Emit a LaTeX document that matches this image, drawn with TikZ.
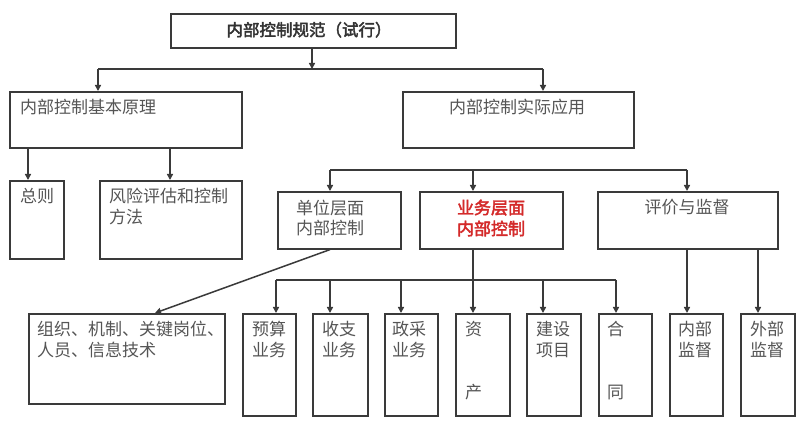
\documentclass[tikz,border=0pt]{standalone}
\usepackage{fontspec}
\setmainfont[AutoFakeBold=2.5]{Noto Sans CJK SC}
\usetikzlibrary{arrows.meta}
\definecolor{lineclr}{HTML}{3A3A3A}
\definecolor{txtclr}{HTML}{555555}
\definecolor{redclr}{HTML}{D42A2A}
\tikzset{
  box/.style={draw=lineclr, line width=1.6pt, inner sep=0pt, anchor=north west},
  txt/.style={text=txtclr, font=\fontsize{17}{20}\selectfont, inner sep=0pt, anchor=base west},
  ctxt/.style={txt, anchor=base},
  redtxt/.style={ctxt, text=redclr, font=\fontsize{17}{20}\selectfont\bfseries},
  conn/.style={draw=lineclr, line width=1.5pt},
  arr/.style={conn, -{Triangle[length=6pt,width=6pt]}},
}
\begin{document}
\begin{tikzpicture}[x=1pt,y=-1pt]
\fill[white] (0,0) rectangle (800,427);
\useasboundingbox (0,0) rectangle (800,427);
% boxes
\node[box, minimum width=285pt, minimum height=34pt] (top) at (170,13) {};
\node[box, minimum width=232pt, minimum height=56pt] (yuanli) at (9,91) {};
\node[box, minimum width=231pt, minimum height=56pt] (yingyong) at (402,91) {};
\node[box, minimum width=54pt, minimum height=78pt] (zongze) at (9,180) {};
\node[box, minimum width=142pt, minimum height=78pt] (fengxian) at (99,180) {};
\node[box, minimum width=123pt, minimum height=57pt] (danwei) at (277,191) {};
\node[box, minimum width=143pt, minimum height=57pt] (yewu) at (419,191) {};
\node[box, minimum width=180pt, minimum height=57pt] (pingjia) at (597,191) {};
\node[box, minimum width=196pt, minimum height=90pt] (zuzhi) at (28,313) {};
\node[box, minimum width=53pt, minimum height=102pt] (yusuan) at (242,313) {};
\node[box, minimum width=55pt, minimum height=102pt] (shouzhi) at (312,313) {};
\node[box, minimum width=53pt, minimum height=102pt] (zhengcai) at (384,313) {};
\node[box, minimum width=54pt, minimum height=102pt] (zichan) at (455,313) {};
\node[box, minimum width=54pt, minimum height=102pt] (jianshe) at (526,313) {};
\node[box, minimum width=53pt, minimum height=102pt] (hetong) at (598,313) {};
\node[box, minimum width=53pt, minimum height=102pt] (neibu) at (669,313) {};
\node[box, minimum width=54pt, minimum height=102pt] (waibu) at (740,313) {};
% texts
\node[ctxt, text=black!80, font=\fontsize{16.5}{20}\selectfont\bfseries] (t-top) at (309,36) {内部控制规范（试行）};
\node[txt] (t-yuanli) at (20,114) {内部控制基本原理};
\node[ctxt] (t-yingyong) at (517,114) {内部控制实际应用};
\node[txt] (t-zongze) at (20,203) {总则};
\node[txt] (t-fx1) at (109,203) {风险评估和控制};
\node[txt] (t-fx2) at (109,224) {方法};
\node[txt] (t-dw1) at (296,215) {单位层面};
\node[txt] (t-dw2) at (296,235) {内部控制};
\node[redtxt] (t-yw1) at (491,214) {业务层面};
\node[redtxt] (t-yw2) at (491,235) {内部控制};
\node[ctxt] (t-pj) at (687,214) {评价与监督};
\node[txt] (t-zz1) at (37,336) {组织、机制、关键岗位、};
\node[txt] (t-zz2) at (37,356) {人员、信息技术};
\node[txt] (t-ys1) at (252,336) {预算};
\node[txt] (t-ys2) at (252,356) {业务};
\node[txt] (t-sz1) at (322,336) {收支};
\node[txt] (t-sz2) at (322,356) {业务};
\node[txt] (t-zc1) at (392,336) {政采};
\node[txt] (t-zc2) at (392,356) {业务};
\node[txt] (t-zi) at (465,336) {资};
\node[txt] (t-chan) at (465,398) {产};
\node[txt] (t-js1) at (536,336) {建设};
\node[txt] (t-js2) at (536,356) {项目};
\node[txt] (t-he) at (607,336) {合};
\node[txt] (t-tong) at (607,398) {同};
\node[txt] (t-nb1) at (678,336) {内部};
\node[txt] (t-nb2) at (678,356) {监督};
\node[txt] (t-wb1) at (750,336) {外部};
\node[txt] (t-wb2) at (750,356) {监督};
% buses
\coordinate (bus1L) at (98,69);
\coordinate (bus1R) at (543,69);
\coordinate (bus2L) at (330,170);
\coordinate (bus2R) at (687,170);
\coordinate (bus3L) at (276,280);
\coordinate (bus3R) at (616,280);
\draw[conn] (bus1L) -- (bus1R);
\draw[conn] (bus2L) -- (bus2R);
\draw[conn] (bus3L) -- (bus3R);
% connectors
\draw[arr] (312,0 |- top.south) -- (312,0 |- bus1L);
\draw[arr] (bus1L) -- (bus1L |- yuanli.north);
\draw[arr] (bus1R) -- (bus1R |- yingyong.north);
\draw[arr] (28,0 |- yuanli.south) -- (28,0 |- zongze.north);
\draw[arr] (170,0 |- yuanli.south) -- (170,0 |- fengxian.north);
\draw[arr] (bus2L) -- (bus2L |- danwei.north);
\draw[arr] (473,0 |- bus2L) -- (473,0 |- yewu.north);
\draw[arr] (bus2R) -- (bus2R |- pingjia.north);
\draw[arr] (330,0 |- danwei.south) -- (155,0 |- zuzhi.north);
\draw[arr] (bus3L) -- (bus3L |- yusuan.north);
\draw[arr] (330,0 |- bus3L) -- (330,0 |- shouzhi.north);
\draw[arr] (401,0 |- bus3L) -- (401,0 |- zhengcai.north);
\draw[arr] (473,0 |- yewu.south) -- (473,0 |- zichan.north);
\draw[arr] (543,0 |- bus3L) -- (543,0 |- jianshe.north);
\draw[arr] (bus3R) -- (bus3R |- hetong.north);
\draw[arr] (687,0 |- pingjia.south) -- (687,0 |- neibu.north);
\draw[arr] (758,0 |- pingjia.south) -- (758,0 |- waibu.north);
\end{tikzpicture}
\end{document}
